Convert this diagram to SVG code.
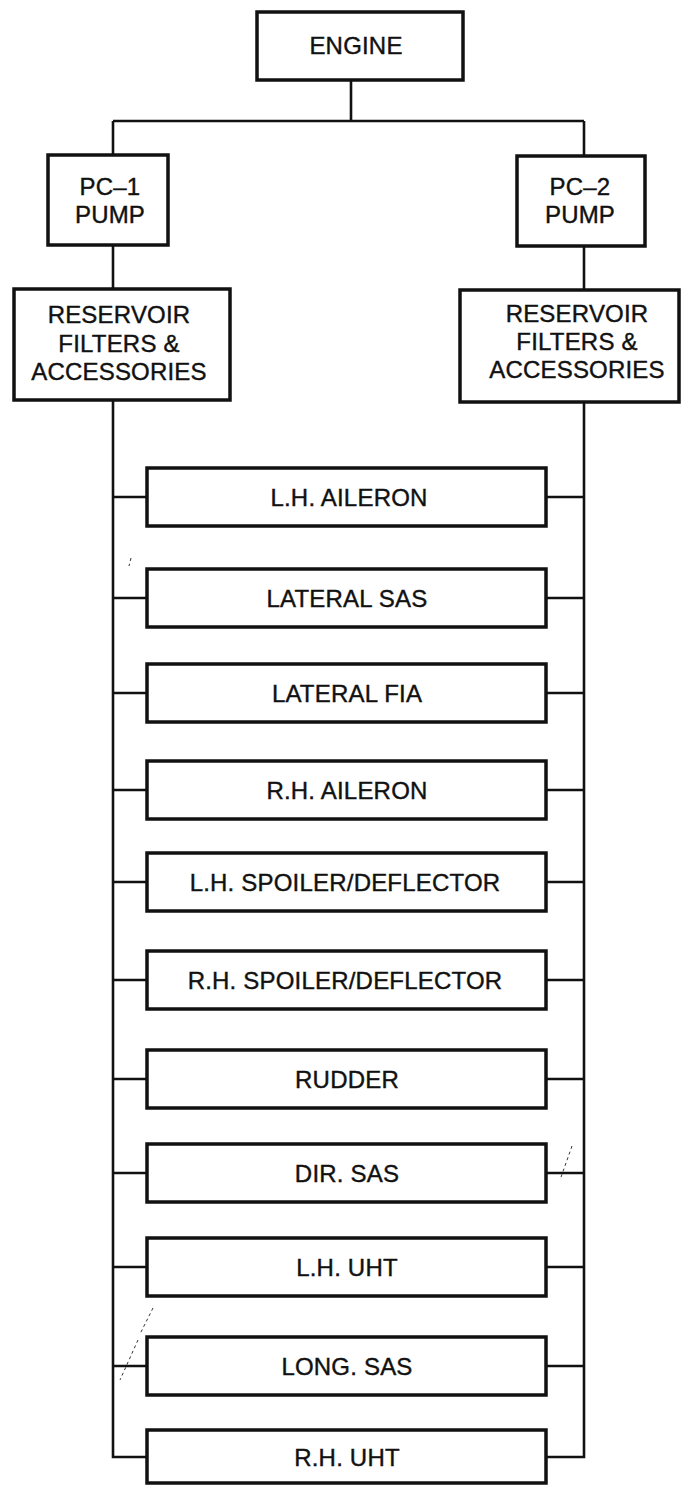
<svg xmlns="http://www.w3.org/2000/svg" width="683" height="1485" viewBox="0 0 683 1485">
<style>
.box{fill:#fff;stroke:#111;stroke-width:3.5}
.ln{fill:none;stroke:#111;stroke-width:2.6}
.art{fill:none;stroke:#333;stroke-width:1;stroke-dasharray:3 3}
text{font-family:"Liberation Sans",Arial,sans-serif;font-size:24px;letter-spacing:0.2px;fill:#111;stroke:#111;stroke-width:0.4px;text-anchor:middle}
</style>
<rect width="683" height="1485" fill="#fff"/>
<g id="connectors">
<path class="ln" d="M351 80V121M113 121H584M113 121V155M584 121V155M113 245V289M584 246V290"/>
<path class="ln" d="M113 400V1457H147M584 402V1457H546"/>
<path class="ln" d="M113 497H147M546 497H584M113 598H147M546 598H584M113 693H147M546 693H584M113 790H147M546 790H584M113 882H147M546 882H584M113 980H147M546 980H584M113 1079H147M546 1079H584M113 1173H147M546 1173H584M113 1267H147M546 1267H584M113 1366H147M546 1366H584"/>
</g>
<g id="engine"><rect class="box" x="257" y="12" width="206" height="68"/><text x="356" y="54">ENGINE</text></g>
<g id="pc1"><rect class="box" x="48" y="155" width="120" height="90"/><text x="110" y="195">PC–1</text><text x="110" y="223">PUMP</text></g>
<g id="pc2"><rect class="box" x="517" y="156" width="128" height="90"/><text x="580" y="195">PC–2</text><text x="580" y="223">PUMP</text></g>
<g id="res1"><rect class="box" x="14" y="289" width="216" height="111"/><text x="119" y="323">RESERVOIR</text><text x="119" y="352">FILTERS &amp;</text><text x="119" y="380">ACCESSORIES</text></g>
<g id="res2"><rect class="box" x="460" y="290" width="219" height="112"/><text x="577" y="322">RESERVOIR</text><text x="577" y="350">FILTERS &amp;</text><text x="577" y="378">ACCESSORIES</text></g>
<g id="b0"><rect class="box" x="147" y="468" width="399" height="58"/><text x="349" y="506">L.H. AILERON</text></g>
<g id="b1"><rect class="box" x="147" y="569" width="399" height="58"/><text x="347" y="607">LATERAL SAS</text></g>
<g id="b2"><rect class="box" x="147" y="664" width="399" height="58"/><text x="347" y="702">LATERAL FIA</text></g>
<g id="b3"><rect class="box" x="147" y="761" width="399" height="58"/><text x="347" y="799">R.H. AILERON</text></g>
<g id="b4"><rect class="box" x="147" y="853" width="399" height="58"/><text x="345" y="891">L.H. SPOILER/DEFLECTOR</text></g>
<g id="b5"><rect class="box" x="147" y="951" width="399" height="58"/><text x="345" y="989">R.H. SPOILER/DEFLECTOR</text></g>
<g id="b6"><rect class="box" x="147" y="1050" width="399" height="58"/><text x="347" y="1088">RUDDER</text></g>
<g id="b7"><rect class="box" x="147" y="1144" width="399" height="58"/><text x="347" y="1182">DIR. SAS</text></g>
<g id="b8"><rect class="box" x="147" y="1238" width="399" height="58"/><text x="347" y="1276">L.H. UHT</text></g>
<g id="b9"><rect class="box" x="147" y="1337" width="399" height="58"/><text x="347" y="1375">LONG. SAS</text></g>
<g id="b10"><rect class="box" x="147" y="1430" width="399" height="53"/><text x="347" y="1466">R.H. UHT</text></g>
<g id="marks">
<path class="art" d="M153 1308L140 1334M138 1340L120 1380"/>
<path class="art" d="M572 1146L560 1180"/>
<path class="art" d="M131 558L129 566"/>
</g>
</svg>
